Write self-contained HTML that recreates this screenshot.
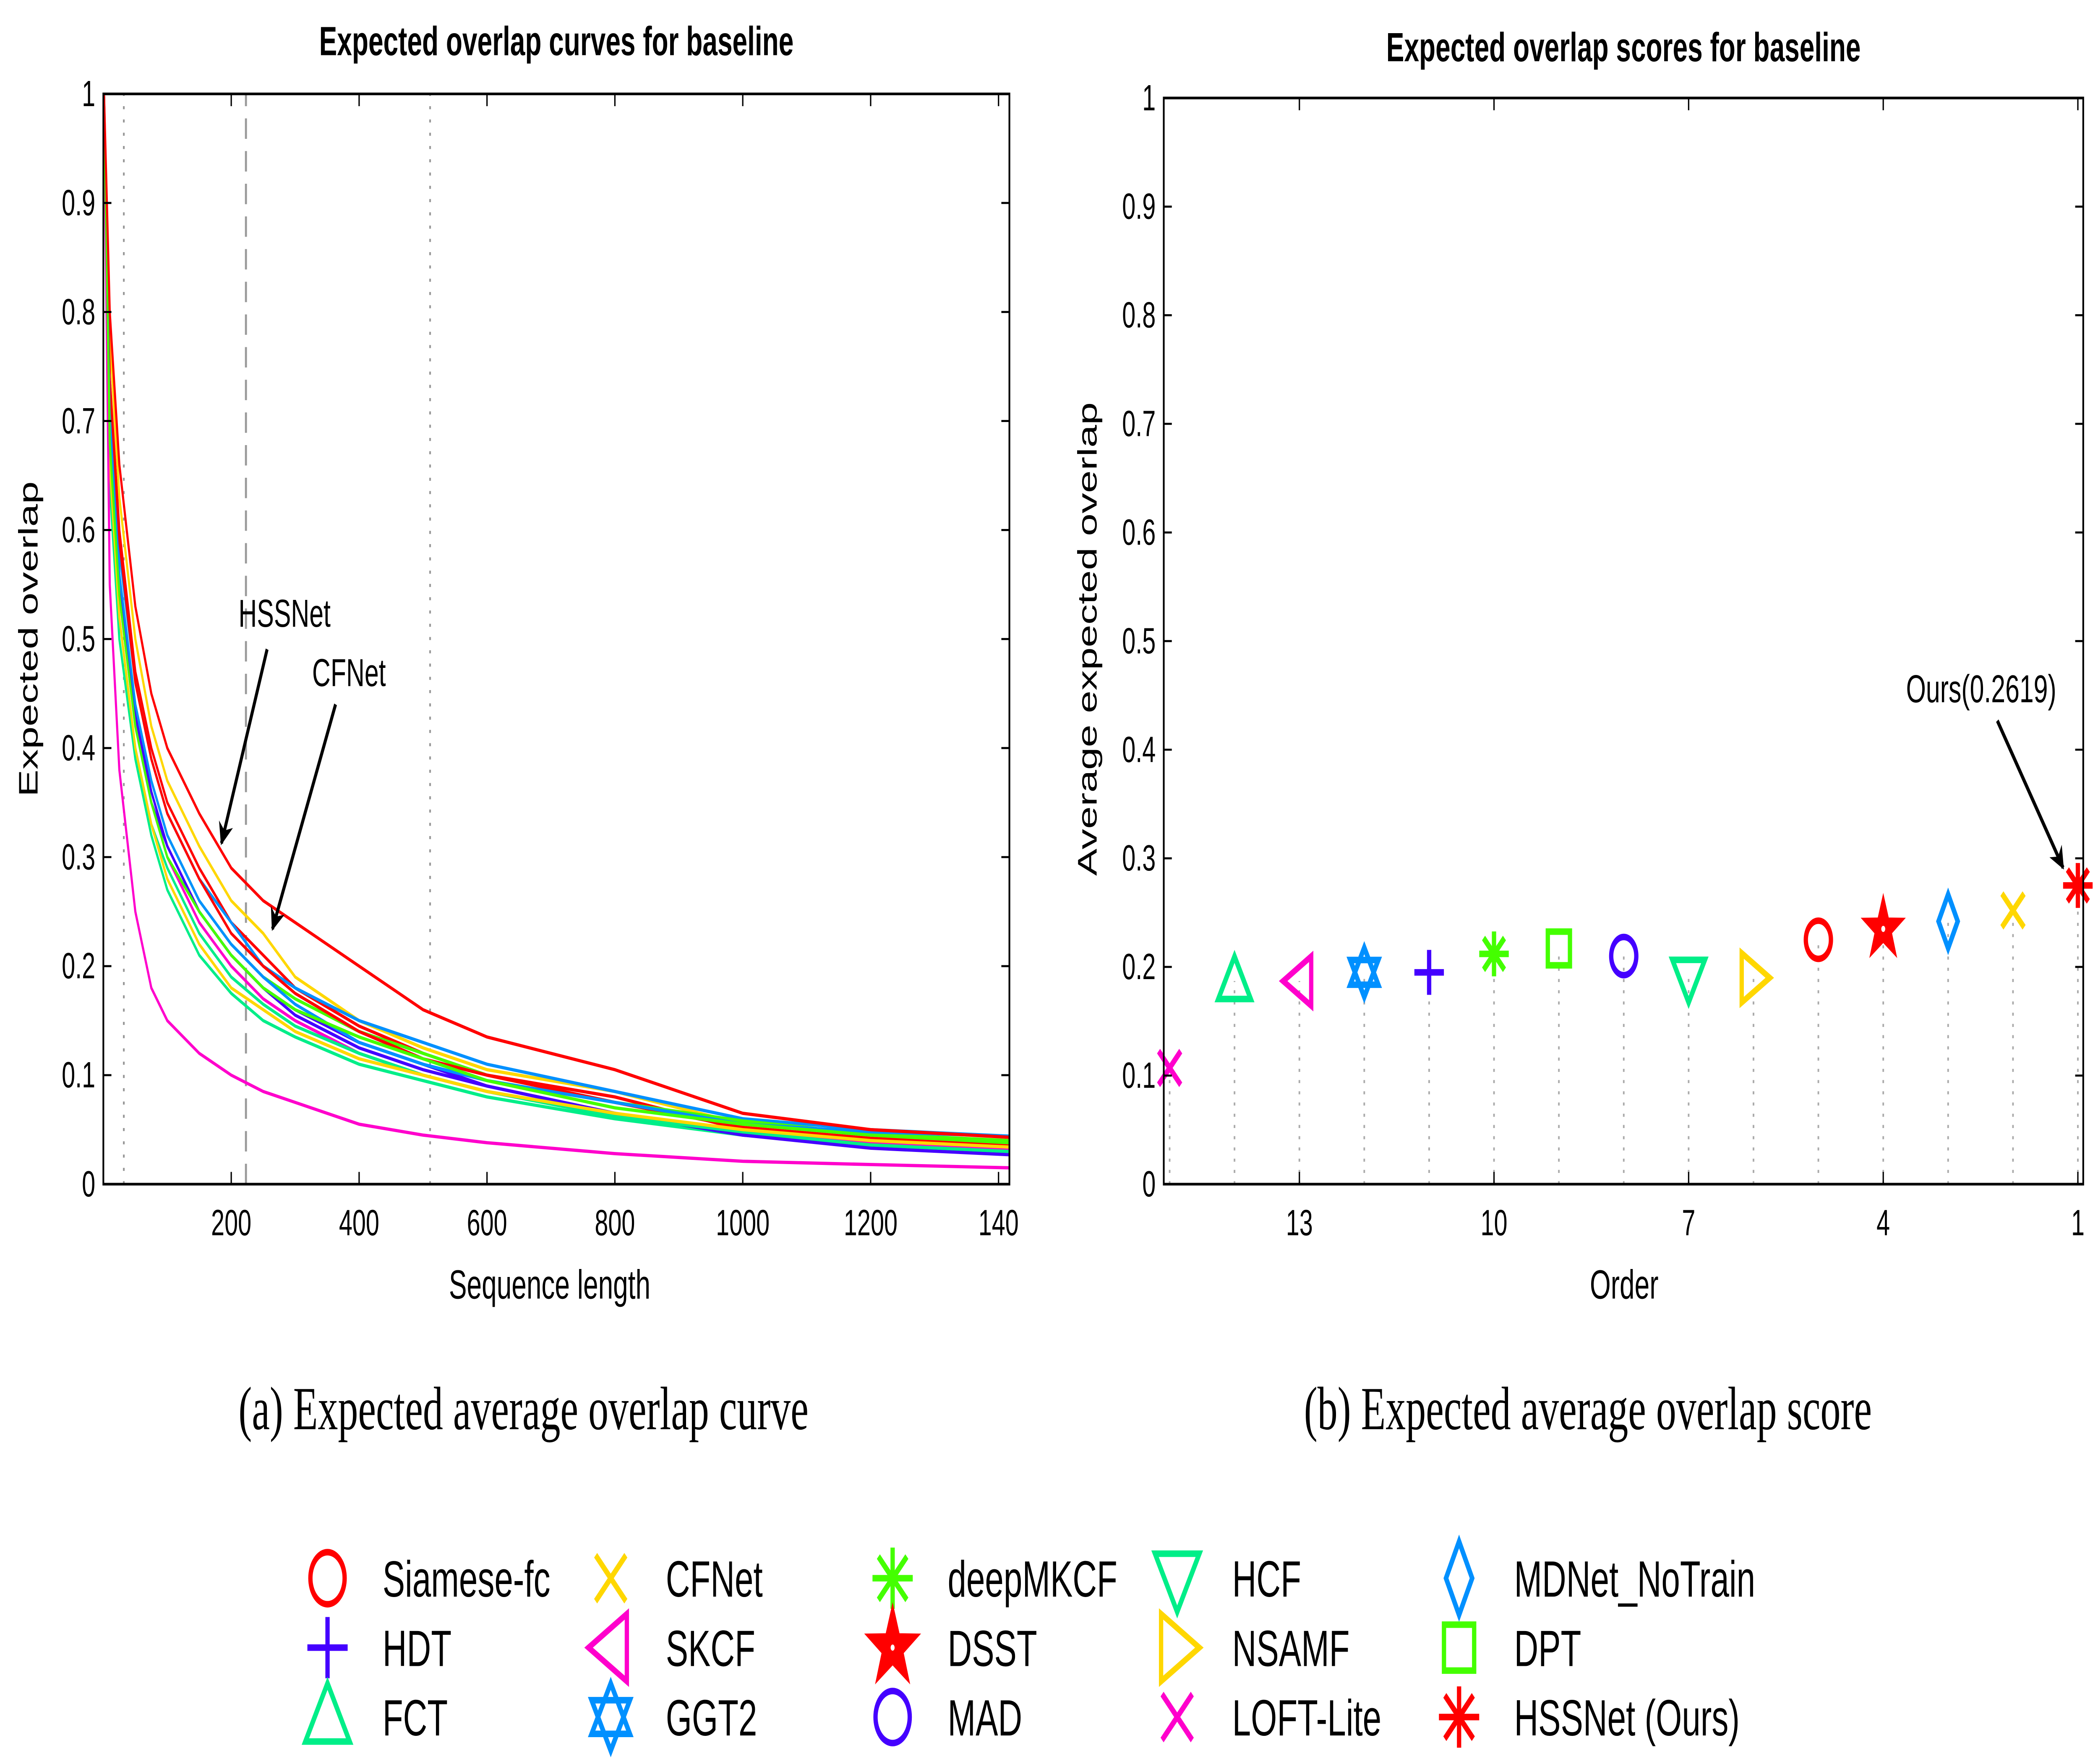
<!DOCTYPE html>
<html><head><meta charset="utf-8"><style>
html,body{margin:0;padding:0;background:#fff;overflow:hidden;}
svg{display:block;width:100vw;height:100vh;}
text{font-family:"Liberation Sans",sans-serif;}
</style></head><body>
<svg id="fig" viewBox="0 0 1563 864" preserveAspectRatio="none" xmlns="http://www.w3.org/2000/svg">
<g id="left"></g>
<g id="right"></g>
<g id="legend"></g>
<text x="390" y="700" text-anchor="middle" font-size="30" style="font-family:'Liberation Serif',serif">(a)  Expected average overlap curve</text>
<text x="1183" y="700" text-anchor="middle" font-size="30" style="font-family:'Liberation Serif',serif">(b)  Expected average overlap score</text>
</svg>
<script>
const trackers = ["Siamese-fc","HDT","FCT","CFNet","SKCF","GGT2","deepMKCF","DSST","MAD","HCF","NSAMF","LOFT-Lite","MDNet_NoTrain","DPT","HSSNet (Ours)"];
const colors = ["#ff0000","#4400ff","#00ee88","#ffd700","#ff00cc","#0090ff","#44ff00","#ff0000","#4400ff","#00ee88","#ffd700","#ff00cc","#0090ff","#44ff00","#ff0000"];
const shapes = ["circle","plus","tri-up","x","tri-left","hexagram","asterisk","star","circle","tri-down","tri-right","x","diamond","square","asterisk"];
const scoreOrder = [5,11,14,2,13,12,10,4,8,7,6,15,3,9,1];
const scores = [0.225,0.195,0.187,0.252,0.187,0.195,0.212,0.235,0.210,0.190,0.190,0.107,0.242,0.217,0.275];
const seqLen = [1,10,25,50,75,100,150,200,250,300,400,500,600,800,1000,1200,1417];
const curves = [
 [1,0.74,0.60,0.47,0.40,0.35,0.29,0.24,0.21,0.18,0.145,0.12,0.10,0.08,0.05,0.040,0.035],
 [1,0.68,0.55,0.43,0.36,0.31,0.25,0.21,0.18,0.16,0.13,0.11,0.09,0.065,0.045,0.035,0.028],
 [1,0.64,0.50,0.39,0.32,0.27,0.21,0.175,0.15,0.135,0.11,0.095,0.08,0.06,0.045,0.035,0.030],
 [1,0.78,0.63,0.50,0.42,0.37,0.31,0.26,0.23,0.19,0.15,0.125,0.105,0.085,0.055,0.045,0.038],
 [1,0.68,0.54,0.42,0.35,0.30,0.24,0.20,0.17,0.15,0.12,0.10,0.085,0.065,0.048,0.038,0.032],
 [1,0.72,0.58,0.46,0.39,0.34,0.28,0.24,0.20,0.18,0.15,0.13,0.11,0.085,0.06,0.05,0.044],
 [1,0.70,0.56,0.44,0.37,0.32,0.26,0.22,0.19,0.17,0.14,0.12,0.10,0.075,0.058,0.046,0.040],
 [1,0.74,0.59,0.46,0.39,0.34,0.28,0.23,0.20,0.175,0.14,0.115,0.10,0.075,0.052,0.042,0.036],
 [1,0.68,0.54,0.42,0.35,0.31,0.25,0.21,0.18,0.155,0.125,0.105,0.09,0.065,0.045,0.033,0.027],
 [1,0.66,0.52,0.40,0.33,0.29,0.23,0.19,0.165,0.145,0.12,0.10,0.085,0.062,0.048,0.036,0.030],
 [1,0.66,0.52,0.40,0.33,0.28,0.22,0.18,0.16,0.14,0.115,0.10,0.085,0.065,0.05,0.04,0.034],
 [1,0.55,0.38,0.25,0.18,0.15,0.12,0.10,0.085,0.075,0.055,0.045,0.038,0.028,0.021,0.018,0.015],
 [1,0.70,0.56,0.44,0.37,0.32,0.26,0.22,0.19,0.165,0.13,0.11,0.095,0.075,0.055,0.048,0.044],
 [1,0.68,0.54,0.42,0.35,0.30,0.25,0.21,0.18,0.16,0.135,0.115,0.095,0.07,0.055,0.045,0.038],
 [1,0.80,0.66,0.53,0.45,0.40,0.34,0.29,0.26,0.24,0.20,0.16,0.135,0.105,0.065,0.05,0.043]
];
const yTicks = [0,0.1,0.2,0.3,0.4,0.5,0.6,0.7,0.8,0.9,1];
const xTicks = [200,400,600,800,1000,1200,1400];
const xTickLabels = ["200","400","600","800","1000","1200","140"];
const orderTicks = [13,10,7,4,1];

const NS="http://www.w3.org/2000/svg";
function mk(tag,attrs,parent){const e=document.createElementNS(NS,tag);for(const k in attrs)e.setAttribute(k,attrs[k]);parent.appendChild(e);return e;}

const L=document.getElementById('left');
const lx0=77,lx1=752,ly0=580,ly1=46;
const lxs=v=>lx0+(v/1417)*(lx1-lx0);
const lys=v=>ly0-v*(ly0-ly1);
let t=mk('text',{x:(lx0+lx1)/2,y:27,'text-anchor':'middle','font-size':20,'font-weight':'bold'},L);t.textContent='Expected overlap curves for baseline';


[32,511].forEach(v=>{const l=mk('line',{x1:lxs(v),x2:lxs(v),y1:ly0,y2:ly1,stroke:'#999','stroke-width':1.3,'stroke-dasharray':'1.5,5'},L);

});
const dl=mk('line',{x1:lxs(223),x2:lxs(223),y1:ly0,y2:ly1,stroke:'#999','stroke-width':1.5,'stroke-dasharray':'10,6'},L);


curves.forEach((c,i)=>{
  const d=c.map((v,j)=>(j?'L':'M')+lxs(seqLen[j]).toFixed(2)+','+lys(v).toFixed(2)).join(' ');
  const p=mk('path',{d:d,fill:'none',stroke:colors[i],'stroke-width':1.6},L);
  
  
});
const lb=mk('rect',{x:lx0,y:ly1,width:lx1-lx0,height:ly0-ly1,fill:'none',stroke:'#000','stroke-width':1.3},L);


yTicks.forEach(v=>{
  mk('line',{x1:lx0,x2:lx0+6,y1:lys(v),y2:lys(v),stroke:'#000'},L);
  mk('line',{x1:lx1,x2:lx1-6,y1:lys(v),y2:lys(v),stroke:'#000'},L);
  const tt=mk('text',{x:lx0-6,y:lys(v)+6,'text-anchor':'end','font-size':18},L);tt.textContent=String(v);
  
  
});
xTicks.forEach((v,i)=>{
  mk('line',{x1:lxs(v),x2:lxs(v),y1:ly0,y2:ly0-6,stroke:'#000'},L);
  mk('line',{x1:lxs(v),x2:lxs(v),y1:ly1,y2:ly1+6,stroke:'#000'},L);
  const tt=mk('text',{x:lxs(v),y:ly0+25,'text-anchor':'middle','font-size':18},L);tt.textContent=xTickLabels[i];
  
  
});
t=mk('text',{x:lx0+(lx1-lx0)/2-5,y:636,'text-anchor':'middle','font-size':20},L);t.textContent='Sequence length';


t=mk('text',{x:0,y:0,'text-anchor':'middle','font-size':20,transform:'translate(28,313) rotate(-90)'},L);t.textContent='Expected overlap';


mk('defs',{},L).innerHTML='<marker id="ah" viewBox="0 0 10 10" refX="9" refY="5" markerWidth="5" markerHeight="5" orient="auto"><path d="M0,0 L10,5 L0,10 L3,5 z" fill="#000"/></marker>';
t=mk('text',{x:212,y:307,'text-anchor':'middle','font-size':19},L);t.textContent='HSSNet';


mk('line',{x1:199,y1:318,x2:165,y2:413,stroke:'#000','stroke-width':2.2,'marker-end':'url(#ah)'},L);
t=mk('text',{x:260,y:336,'text-anchor':'middle','font-size':19},L);t.textContent='CFNet';


mk('line',{x1:250,y1:345,x2:203,y2:455,stroke:'#000','stroke-width':2.2,'marker-end':'url(#ah)'},L);

function marker(parent,shape,cx,cy,r,color){
  const g=mk('g',{fill:'none',stroke:color,'stroke-width':3.2},parent);
  const pts=a=>a.map(p=>(cx+p[0]*r).toFixed(2)+','+(cy+p[1]*r).toFixed(2)).join(' ');
  switch(shape){
   case 'circle':mk('circle',{cx:cx,cy:cy,r:r*0.85},g);break;
   case 'plus':mk('path',{d:`M${cx-r},${cy}H${cx+r}M${cx},${cy-r}V${cy+r}`},g);break;
   case 'x':mk('path',{d:`M${cx-r*.75},${cy-r*.75}L${cx+r*.75},${cy+r*.75}M${cx-r*.75},${cy+r*.75}L${cx+r*.75},${cy-r*.75}`},g);break;
   case 'tri-up':mk('polygon',{points:pts([[0,-1.1],[1.1,0.8],[-1.1,0.8]])},g);break;
   case 'tri-down':mk('polygon',{points:pts([[0,1.1],[1.1,-0.8],[-1.1,-0.8]])},g);break;
   case 'tri-left':mk('polygon',{points:pts([[-1.1,0],[0.8,1.1],[0.8,-1.1]])},g);break;
   case 'tri-right':mk('polygon',{points:pts([[1.1,0],[-0.8,1.1],[-0.8,-1.1]])},g);break;
   case 'diamond':mk('polygon',{points:pts([[0,-1.2],[0.65,0],[0,1.2],[-0.65,0]])},g);break;
   case 'square':mk('rect',{x:cx-r*.75,y:cy-r*.75,width:r*1.5,height:r*1.5},g);break;
   case 'hexagram':mk('polygon',{points:pts([[0,-1.1],[0.95,0.55],[-0.95,0.55]])},g);mk('polygon',{points:pts([[0,1.1],[0.95,-0.55],[-0.95,-0.55]])},g);break;
   case 'star':{const a=[];for(let k=0;k<10;k++){const ang=-Math.PI/2+k*Math.PI/5,rr=k%2?0.45:1.15;a.push([rr*Math.cos(ang),rr*Math.sin(ang)]);}
     g.setAttribute('fill',color);mk('polygon',{points:pts(a)},g);mk('circle',{cx:cx,cy:cy,r:1.5,fill:'#fff',stroke:'none'},g);break;}
   case 'asterisk':{let d='';for(let k=0;k<4;k++){const ang=k*Math.PI/4;d+=`M${cx-r*Math.cos(ang)},${cy-r*Math.sin(ang)}L${cx+r*Math.cos(ang)},${cy+r*Math.sin(ang)}`;}mk('path',{d:d},g);break;}
  }
  return g;
}

const R=document.getElementById('right');
const rx0=867,rx1=1552,ry0=580,ry1=48;
const rxs=o=>1548-(o-1)*48.33;
const rys=v=>ry0-v*(ry0-ry1);
t=mk('text',{x:(rx0+rx1)/2,y:30,'text-anchor':'middle','font-size':20,'font-weight':'bold'},R);t.textContent='Expected overlap scores for baseline';


trackers.forEach((n,i)=>{
  const x=rxs(scoreOrder[i]),y=rys(scores[i]);
  const l=mk('line',{x1:x,x2:x,y1:ry0,y2:y,stroke:'#aaa','stroke-width':1.2,'stroke-dasharray':'1.5,4'},R);
  
  
  const m=marker(R,shapes[i],x,y,11,colors[i]);
  
  
});
const rb=mk('rect',{x:rx0,y:ry1,width:rx1-rx0,height:ry0-ry1,fill:'none',stroke:'#000','stroke-width':1.3},R);


yTicks.forEach(v=>{
  mk('line',{x1:rx0,x2:rx0+6,y1:rys(v),y2:rys(v),stroke:'#000'},R);
  mk('line',{x1:rx1,x2:rx1-6,y1:rys(v),y2:rys(v),stroke:'#000'},R);
  const tt=mk('text',{x:rx0-6,y:rys(v)+6,'text-anchor':'end','font-size':18},R);tt.textContent=String(v);
  
  
});
orderTicks.forEach(o=>{
  mk('line',{x1:rxs(o),x2:rxs(o),y1:ry0,y2:ry0-6,stroke:'#000'},R);
  mk('line',{x1:rxs(o),x2:rxs(o),y1:ry1,y2:ry1+6,stroke:'#000'},R);
  const tt=mk('text',{x:rxs(o),y:ry0+25,'text-anchor':'middle','font-size':18},R);tt.textContent=String(o);
  
  
});
t=mk('text',{x:1210,y:636,'text-anchor':'middle','font-size':20},R);t.textContent='Order';


t=mk('text',{x:0,y:0,'text-anchor':'middle','font-size':20,transform:'translate(817,313) rotate(-90)'},R);t.textContent='Average expected overlap';


t=mk('text',{x:1476,y:344,'text-anchor':'middle','font-size':19},R);t.textContent='Ours(0.2619)';


mk('line',{x1:1488,y1:353,x2:1537,y2:425,stroke:'#000','stroke-width':2.2,'marker-end':'url(#ah)'},R);

const G=document.getElementById('legend');
const colX=[244,455,665,877,1087],rowY=[773,807,841];
trackers.forEach((n,i)=>{
  const c=Math.floor(i/3),r=i%3;
  const m=marker(G,shapes[i],colX[c],rowY[r],15,colors[i]);
  
  
  const tt=mk('text',{x:colX[c]+41,y:rowY[r]+9,'font-size':25},G);tt.textContent=n;
  
  
});
</script>
</body></html>
